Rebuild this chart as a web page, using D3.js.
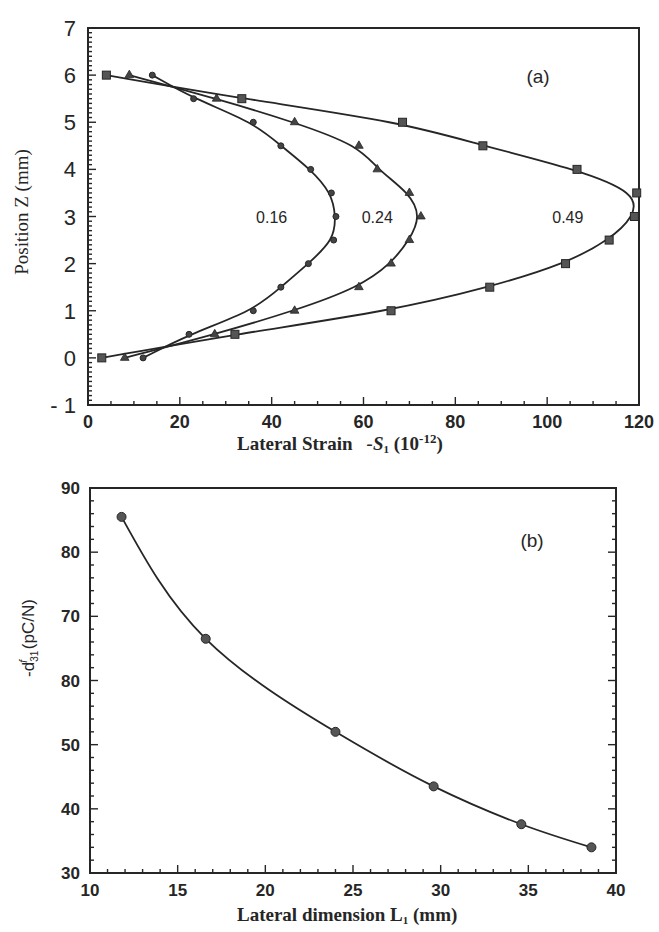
<!DOCTYPE html>
<html>
<head>
<meta charset="utf-8">
<script src="https://cdn.jsdelivr.net/npm/d3@7"></script>
<style>
html,body{margin:0;padding:0;background:#fff;}
svg{display:block;}
</style>
</head>
<body>
<svg id="chart" width="659" height="932"></svg>
<script>
// ---------- Panel (a) data ----------
const zPositions = [0, 0.5, 1, 1.5, 2, 2.5, 3, 3.5, 4, 4.5, 5, 5.5, 6];
const strain016 = [12, 22, 36, 42, 48, 53.5, 54, 53, 48.5, 42, 36, 23, 14];
const strain024 = [8, 27.6, 45, 59, 66, 70, 72.5, 70, 63, 59, 45, 28, 9];
const strain049 = [3, 32, 66, 87.5, 104, 113.5, 119, 119.5, 106.5, 86, 68.5, 33.5, 4];
const seriesLabels = ["0.16", "0.24", "0.49"];
const aXTicks = [0, 20, 40, 60, 80, 100, 120];
const aYTicks = [-1, 0, 1, 2, 3, 4, 5, 6, 7];
const aYTickLabels = ["- 1", "0", "1", "2", "3", "4", "5", "6", "7"];

// ---------- Panel (b) data ----------
const lateralDim = [11.8, 16.6, 24, 29.6, 34.6, 38.6];
const d31Values = [85.5, 66.5, 52, 43.5, 37.6, 34];
const bXTicks = [10, 15, 20, 25, 30, 35, 40];
const bYTicks = [30, 40, 50, 60, 70, 80, 90];
const bYTickLabels = ["30", "40", "50", "80", "70", "80", "90"];

const svg = d3.select("#chart");
const ink = "#262626";
const sans = "'Liberation Sans', Arial, sans-serif";
const serif = "'Liberation Serif', 'Times New Roman', serif";

// ================= Panel (a) =================
const ax = d3.scaleLinear().domain([0, 120]).range([88, 639]);
const ay = d3.scaleLinear().domain([-1, 7]).range([405, 28]);

const ga = svg.append("g");
ga.append("rect").attr("x", ax(0)).attr("y", ay(7))
  .attr("width", ax(120) - ax(0)).attr("height", ay(-1) - ay(7))
  .attr("fill", "none").attr("stroke", ink).attr("stroke-width", 2);

const aYMinor = d3.range(-1, 7.0001, 0.1);
ga.selectAll(".aym").data(aYMinor).enter().append("line")
  .attr("x1", ax(0)).attr("x2", d => ax(0) + (Math.abs(d - Math.round(d)) < 1e-6 ? 8 : 4))
  .attr("y1", d => ay(d)).attr("y2", d => ay(d))
  .attr("stroke", ink).attr("stroke-width", 1.4);
ga.selectAll(".ayl").data(aYTicks).enter().append("text")
  .attr("x", ax(0) - 12).attr("y", d => ay(d) + 8)
  .attr("text-anchor", "end").attr("font-family", sans).attr("font-size", 22)
  .attr("fill", ink).text((d, i) => aYTickLabels[i]);

const aXMinor = d3.range(0, 120.001, 5);
ga.selectAll(".axm").data(aXMinor).enter().append("line")
  .attr("x1", d => ax(d)).attr("x2", d => ax(d))
  .attr("y1", ay(-1)).attr("y2", d => ay(-1) - (d % 20 === 0 ? 8 : 4))
  .attr("stroke", ink).attr("stroke-width", 1.4);
ga.selectAll(".axl").data(aXTicks).enter().append("text")
  .attr("x", d => ax(d)).attr("y", 428)
  .attr("text-anchor", "middle").attr("font-family", sans).attr("font-size", 18)
  .attr("font-weight", "bold").attr("fill", ink).text(d => d);

const aSeries = [strain016, strain024, strain049];
const aLine = d3.line()
  .x(d => ax(d[0])).y(d => ay(d[1]))
  .curve(d3.curveBasis);
aSeries.forEach(s => {
  const pts = s.map((v, i) => [v, zPositions[i]]);
  ga.append("path").datum(pts).attr("d", aLine)
    .attr("fill", "none").attr("stroke", ink).attr("stroke-width", 1.8);
});
const circ = strain016.map((v, i) => [v, zPositions[i]]);
ga.selectAll(".m1").data(circ).enter().append("circle")
  .attr("cx", d => ax(d[0])).attr("cy", d => ay(d[1])).attr("r", 3)
  .attr("fill", "#444").attr("stroke", ink).attr("stroke-width", 1);
const tri = strain024.map((v, i) => [v, zPositions[i]]);
ga.selectAll(".m2").data(tri).enter().append("path")
  .attr("transform", d => `translate(${ax(d[0])},${ay(d[1])})`)
  .attr("d", d3.symbol().type(d3.symbolTriangle).size(32))
  .attr("fill", "#444").attr("stroke", ink).attr("stroke-width", 0.8);
const sq = strain049.map((v, i) => [v, zPositions[i]]);
ga.selectAll(".m3").data(sq).enter().append("rect")
  .attr("x", d => ax(d[0]) - 4).attr("y", d => ay(d[1]) - 4)
  .attr("width", 8).attr("height", 8)
  .attr("fill", "#555").attr("stroke", ink).attr("stroke-width", 1);

const labelPos = [[40, 2.98], [63, 2.98], [104.5, 2.98]];
ga.selectAll(".sl").data(seriesLabels).enter().append("text")
  .attr("x", (d, i) => ax(labelPos[i][0])).attr("y", (d, i) => ay(labelPos[i][1]) + 6)
  .attr("text-anchor", "middle").attr("font-family", sans).attr("font-size", 16)
  .attr("fill", ink).text(d => d);
ga.append("text").attr("x", 538).attr("y", 83).attr("text-anchor", "middle")
  .attr("font-family", sans).attr("font-size", 19).attr("fill", ink).text("(a)");

const aXT = ga.append("text").attr("x", 237).attr("y", 450)
  .attr("font-family", serif).attr("font-size", 19).attr("font-weight", "bold").attr("fill", ink);
aXT.append("tspan").text("Lateral Strain");
aXT.append("tspan").attr("dx", 14).attr("font-style", "italic").text("-S");
aXT.append("tspan").attr("font-size", 11).attr("dy", 3).text("1");
aXT.append("tspan").attr("dy", -3).text(" (10");
aXT.append("tspan").attr("font-size", 13).attr("dy", -7).text("-12");
aXT.append("tspan").attr("dy", 7).text(")");

ga.append("text").attr("transform", "translate(28,212) rotate(-90)")
  .attr("text-anchor", "middle").attr("font-family", serif).attr("font-size", 19)
  .attr("fill", ink).text("Position Z (mm)");

// ================= Panel (b) =================
const bx = d3.scaleLinear().domain([10, 40]).range([90, 616]);
const by = d3.scaleLinear().domain([30, 90]).range([873, 488]);
const gb = svg.append("g");
gb.append("rect").attr("x", bx(10)).attr("y", by(90))
  .attr("width", bx(40) - bx(10)).attr("height", by(30) - by(90))
  .attr("fill", "none").attr("stroke", ink).attr("stroke-width", 2);

const bYMinor = d3.range(30, 90.001, 2);
[bx(10), bx(40)].forEach((x0, side) => {
  const dir = side === 0 ? 1 : -1;
  gb.selectAll(".bym" + side).data(bYMinor).enter().append("line")
    .attr("x1", x0).attr("x2", d => x0 + dir * (d % 10 === 0 ? 8 : 4))
    .attr("y1", d => by(d)).attr("y2", d => by(d))
    .attr("stroke", ink).attr("stroke-width", 1.4);
});
gb.selectAll(".byl").data(bYTicks).enter().append("text")
  .attr("x", bx(10) - 10).attr("y", d => by(d) + 6)
  .attr("text-anchor", "end").attr("font-family", sans).attr("font-size", 17)
  .attr("font-weight", "bold").attr("fill", ink).text((d, i) => bYTickLabels[i]);

const bXMinor = d3.range(10, 40.001, 1);
gb.selectAll(".bxm").data(bXMinor).enter().append("line")
  .attr("x1", d => bx(d)).attr("x2", d => bx(d))
  .attr("y1", by(30)).attr("y2", d => by(30) - (d % 5 === 0 ? 8 : 4))
  .attr("stroke", ink).attr("stroke-width", 1.4);
gb.selectAll(".bxl").data(bXTicks).enter().append("text")
  .attr("x", d => bx(d)).attr("y", 896)
  .attr("text-anchor", "middle").attr("font-family", sans).attr("font-size", 17)
  .attr("font-weight", "bold").attr("fill", ink).text(d => d);

const bPts = lateralDim.map((v, i) => [v, d31Values[i]]);
gb.append("path").datum(bPts)
  .attr("d", d3.line().x(d => bx(d[0])).y(d => by(d[1])).curve(d3.curveNatural))
  .attr("fill", "none").attr("stroke", ink).attr("stroke-width", 1.8);
gb.selectAll(".bm").data(bPts).enter().append("circle")
  .attr("cx", d => bx(d[0])).attr("cy", d => by(d[1])).attr("r", 4.5)
  .attr("fill", "#555").attr("stroke", ink).attr("stroke-width", 1);

gb.append("text").attr("x", 532).attr("y", 547).attr("text-anchor", "middle")
  .attr("font-family", sans).attr("font-size", 19).attr("fill", ink).text("(b)");

const bXT = gb.append("text").attr("x", 237).attr("y", 921)
  .attr("font-family", serif).attr("font-size", 19).attr("font-weight", "bold").attr("fill", ink);
bXT.append("tspan").text("Lateral dimension L");
bXT.append("tspan").attr("font-size", 11).attr("dy", 3).text("1");
bXT.append("tspan").attr("dy", -3).text(" (mm)");

const bYT = gb.append("text").attr("transform", "translate(34,638) rotate(-90)")
  .attr("text-anchor", "middle").attr("font-family", sans).attr("font-size", 17).attr("fill", ink);
bYT.append("tspan").text("-d");
bYT.append("tspan").attr("font-size", 10).attr("dy", 4).text("31");
bYT.append("tspan").attr("font-size", 10).attr("font-style", "italic").attr("dx", -12).attr("dy", -11).text("f");
bYT.append("tspan").attr("dx", 6).attr("dy", 7).text(" (pC/N)");
</script>
</body>
</html>
